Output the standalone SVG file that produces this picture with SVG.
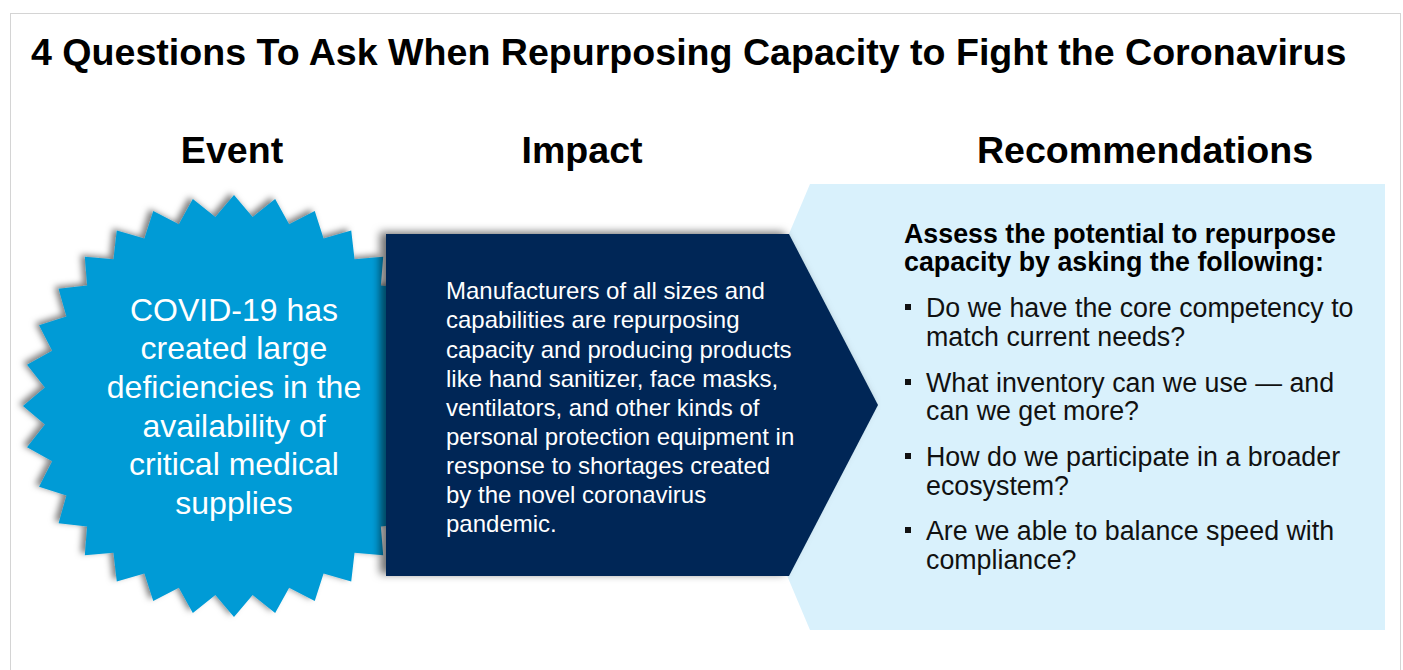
<svg xmlns="http://www.w3.org/2000/svg" width="1403" height="670" viewBox="0 0 1403 670">
<defs>
<style>
.t{font-family:"Liberation Sans",Arial,sans-serif;}
.title{font-size:37.6px;font-weight:bold;fill:#000;}
.head{font-size:37.6px;font-weight:bold;fill:#000;text-anchor:middle;}
.star{font-size:32px;fill:#fff;text-anchor:middle;}
.imp{font-size:24px;fill:#fff;}
.rh{font-size:26.8px;font-weight:bold;fill:#000;}
.rb{font-size:26.8px;fill:#111;}
.bul{fill:#111;}
</style>
<filter id="sh1" x="-10%" y="-10%" width="120%" height="120%">
<feDropShadow dx="-4" dy="-2" stdDeviation="3" flood-color="#000" flood-opacity="0.5"/>
</filter>
<filter id="sh2" x="-10%" y="-10%" width="120%" height="120%">
<feDropShadow dx="-6" dy="-2" stdDeviation="4" flood-color="#000" flood-opacity="0.55"/>
</filter>
</defs>
<rect x="0" y="0" width="1403" height="670" fill="#fff"/>
<rect x="10.5" y="13.5" width="1390" height="700" fill="#fff" stroke="#d4d4d4" stroke-width="1"/>
<text class="t title" x="31" y="65">4 Questions To Ask When Repurposing Capacity to Fight the Coronavirus</text>
<g id="headings">
<text class="t head" x="232" y="163">Event</text>
<text class="t head" x="582" y="163">Impact</text>
<text class="t head" x="1145" y="163">Recommendations</text>
</g>
<g id="recommendations">
<polygon points="810,184 1385,184 1385,630 810,630 716,407" fill="#d9f1fc"/>
<text class="t rh" x="904" y="243">Assess the potential to repurpose</text>
<text class="t rh" x="904" y="271">capacity by asking the following:</text>
<rect class="bul" x="905" y="304" width="6" height="6"/>
<text class="t rb" x="926" y="317">Do we have the core competency to</text>
<text class="t rb" x="926" y="346">match current needs?</text>
<rect class="bul" x="905" y="379" width="6" height="6"/>
<text class="t rb" x="926" y="392">What inventory can we use — and</text>
<text class="t rb" x="926" y="420">can we get more?</text>
<rect class="bul" x="905" y="453" width="6" height="6"/>
<text class="t rb" x="926" y="466">How do we participate in a broader</text>
<text class="t rb" x="926" y="495">ecosystem?</text>
<rect class="bul" x="905" y="527" width="6" height="6"/>
<text class="t rb" x="926" y="540">Are we able to balance speed with</text>
<text class="t rb" x="926" y="569">compliance?</text>
</g>
<g id="event">
<polygon filter="url(#sh1)" fill="#069bd6" points="234,195 252.62,216.92 275.16,199.05 289.15,224.18 314.75,211.06 323.57,238.44 351.23,230.56 354.53,259.13 383.2,256.8 380.87,285.47 409.44,288.77 401.56,316.43 428.94,325.25 415.82,350.85 440.95,364.84 423.08,387.38 445,406 423.08,424.62 440.95,447.16 415.82,461.15 428.94,486.75 401.56,495.57 409.44,523.23 380.87,526.53 383.2,555.2 354.53,552.87 351.23,581.44 323.57,573.56 314.75,600.94 289.15,587.82 275.16,612.95 252.62,595.08 234,617 215.38,595.08 192.84,612.95 178.85,587.82 153.25,600.94 144.43,573.56 116.77,581.44 113.47,552.87 84.8,555.2 87.13,526.53 58.56,523.23 66.44,495.57 39.06,486.75 52.18,461.15 27.05,447.16 44.92,424.62 23,406 44.92,387.38 27.05,364.84 52.18,350.85 39.06,325.25 66.44,316.43 58.56,288.77 87.13,285.47 84.8,256.8 113.47,259.13 116.77,230.56 144.43,238.44 153.25,211.06 178.85,224.18 192.84,199.05 215.38,216.92"/>
<text class="t star" x="234" y="321">COVID-19 has</text>
<text class="t star" x="234" y="359">created large</text>
<text class="t star" x="234" y="398">deficiencies in the</text>
<text class="t star" x="234" y="437">availability of</text>
<text class="t star" x="234" y="475">critical medical</text>
<text class="t star" x="234" y="514">supplies</text>
</g>
<g id="impact">
<polygon filter="url(#sh2)" points="386,234 789,234 878,405 789,576 386,576" fill="#002856"/>
<text class="t imp" x="446" y="299">Manufacturers of all sizes and</text>
<text class="t imp" x="446" y="328">capabilities are repurposing</text>
<text class="t imp" x="446" y="357.5">capacity and producing products</text>
<text class="t imp" x="446" y="386.5">like hand sanitizer, face masks,</text>
<text class="t imp" x="446" y="415.5">ventilators, and other kinds of</text>
<text class="t imp" x="446" y="445">personal protection equipment in</text>
<text class="t imp" x="446" y="474">response to shortages created</text>
<text class="t imp" x="446" y="503">by the novel coronavirus</text>
<text class="t imp" x="446" y="532">pandemic.</text>
</g>
<g id="connectors"></g>
</svg>
